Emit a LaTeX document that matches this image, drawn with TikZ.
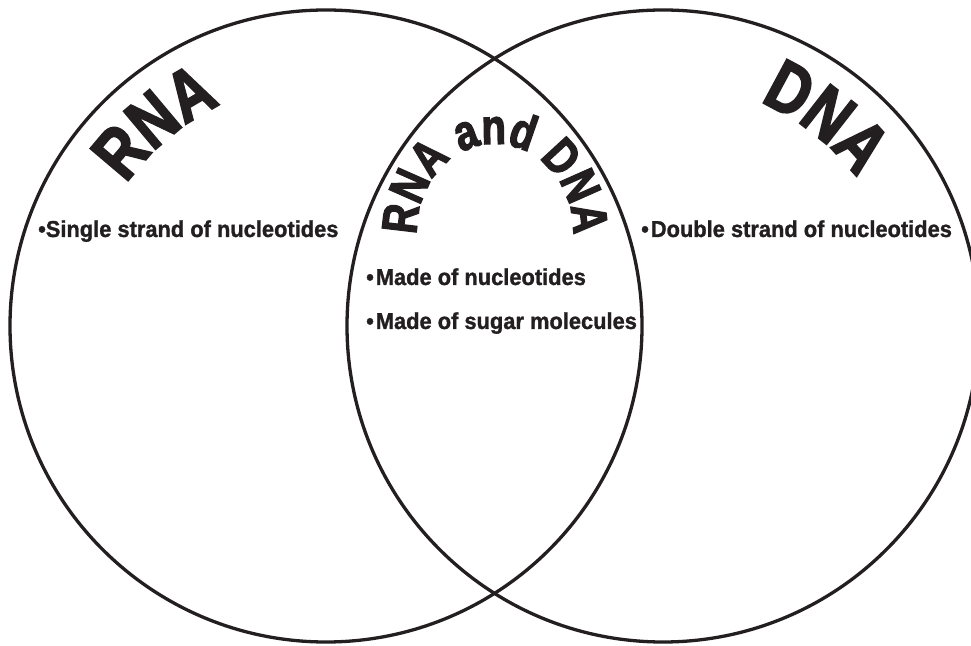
\documentclass[tikz,border=0pt]{standalone}
\usepackage{fontspec}
\setmainfont{Liberation Sans}
\newfontfamily\titlefont[FakeStretch=0.8, BoldFeatures={FakeBold=2.5}]{Liberation Sans}
\newfontfamily\factfont[FakeStretch=0.95, BoldFeatures={FakeBold=1.2}]{Liberation Sans}
\usetikzlibrary{decorations.text}
\definecolor{ink}{HTML}{231F20}
\tikzset{
  ring/.style={draw=ink, line width=3.3pt},
  fact/.style={anchor=base west, inner sep=0pt, text=ink, font=\factfont\bfseries\fontsize{23}{26}\selectfont},
}
\begin{document}
\begin{tikzpicture}[x=1pt,y=1pt]
\useasboundingbox (0,0) rectangle (971,645);
\clip (0,0) rectangle (971,645);
\fill[white] (0,0) rectangle (971,645);
% circles
\node[ring, circle, minimum size=632pt, inner sep=0pt] (rna) at (326,319) {};
\node[ring, circle, minimum size=632pt, inner sep=0pt] (dna) at (663,319) {};
% titles along arcs
\path[decorate, decoration={text along path, text align=center,
   text color=ink, text={|\titlefont\bfseries\fontsize{72}{72}\selectfont|RNA}},
   shift={(rna.center)}] (155:245pt) arc[start angle=155, end angle=105, radius=245pt];
\path[decorate, decoration={text along path, text align=center,
   text color=ink, text={|\titlefont\bfseries\fontsize{72}{72}\selectfont|DNA}},
   shift={(dna.center)}] (77:244pt) arc[start angle=77, end angle=27, radius=244pt];
\coordinate (mid) at (495,413);
\path[decorate, decoration={text along path, text align=center,
   text color=ink, text={|\titlefont\bfseries\fontsize{50}{50}\selectfont|RNA and DNA}},
   shift={(mid)}] (205:78pt and 88pt) arc[start angle=205, end angle=-25, x radius=78pt, y radius=88pt];
% facts
\node[fact] (f1) at (38,408) {•Single strand of nucleotides};
\node[fact] (f2) at (641,408) {•\kern2pt Double strand of nucleotides};
\node[fact] (f3) at (366,360) {•\kern2pt Made of nucleotides};
\node[fact] (f4) at (366,316) {•\kern2pt Made of sugar molecules};
\end{tikzpicture}
\end{document}
